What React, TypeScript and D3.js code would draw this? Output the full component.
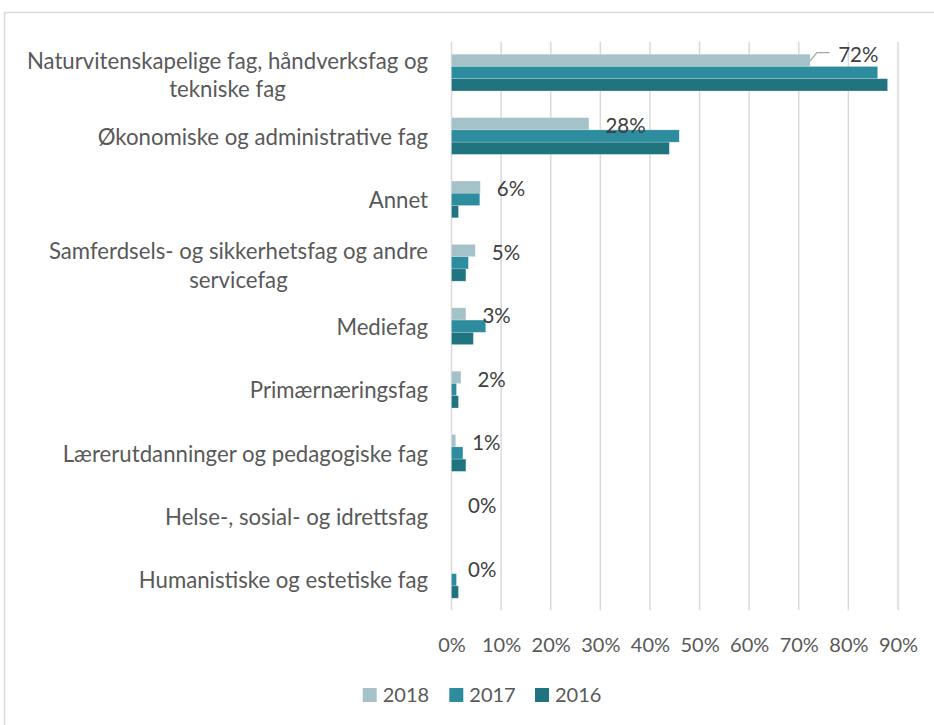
import React, { useEffect, useRef } from "react";
import * as d3 from "d3";

const categories = [
  ["Naturvitenskapelige fag, håndverksfag og", "tekniske fag"],
  ["Økonomiske og administrative fag"],
  ["Annet"],
  ["Samferdsels- og sikkerhetsfag og andre", "servicefag"],
  ["Mediefag"],
  ["Primærnæringsfag"],
  ["Lærerutdanninger og pedagogiske fag"],
  ["Helse-, sosial- og idrettsfag"],
  ["Humanistiske og estetiske fag"]
];

const years = ["2018", "2017", "2016"];
const v2018 = [72.3, 27.7, 5.8, 4.8, 2.9, 1.9, 0.85, 0, 0];
const v2017 = [85.9, 45.9, 5.7, 3.4, 6.9, 1.0, 2.3, 0, 1.0];
const v2016 = [87.9, 43.9, 1.4, 2.9, 4.4, 1.4, 2.9, 0, 1.4];
const labels2018 = ["72%", "28%", "6%", "5%", "3%", "2%", "1%", "0%", "0%"];
const xTicks = [0, 10, 20, 30, 40, 50, 60, 70, 80, 90];

const colors = ["#a5c2c9", "#2d8c9e", "#207480"];
const FONT = "Lato, 'Open Sans', sans-serif";

export default function App() {
  const ref = useRef<SVGSVGElement>(null);

  useEffect(() => {
    const width = 934;
    const height = 725;
    const svg = d3.select(ref.current).attr("width", width).attr("height", height);
    svg.selectAll("*").remove();

    const series = [v2018, v2017, v2016];
    const idx = categories.map((_, i) => i);

    // frame
    svg
      .append("rect")
      .attr("x", 4.5)
      .attr("y", 12.5)
      .attr("width", 1000)
      .attr("height", 1000)
      .attr("fill", "none")
      .attr("stroke", "#d9d9d9")
      .attr("stroke-width", 1.5);

    const x = d3.scaleLinear().domain([0, 90]).range([451.5, 898]);
    const y = d3
      .scaleBand<number>()
      .domain(idx)
      .range([41.7, 612.3])
      .padding(0);
    const groupH = y.bandwidth() * 0.58;
    const sub = d3
      .scaleBand<number>()
      .domain([0, 1, 2])
      .range([-groupH / 2 - 0.8, groupH / 2 - 0.8]);

    // gridlines
    svg
      .append("g")
      .selectAll("line")
      .data(xTicks)
      .join("line")
      .attr("x1", d => x(d))
      .attr("x2", d => x(d))
      .attr("y1", y.range()[0])
      .attr("y2", y.range()[1] - 2)
      .attr("stroke", "#d9d9d9")
      .attr("stroke-width", 1.5);

    // x axis labels
    const ax = svg
      .append("g")
      .attr("transform", `translate(0,${y.range()[1] + 22})`)
      .call(
        d3
          .axisBottom(x)
          .tickValues(xTicks)
          .tickSize(0)
          .tickFormat(d => `${d}%`)
      );
    ax.select(".domain").remove();
    ax.selectAll("text")
      .attr("fill", "#595959")
      .style("font-family", FONT)
      .style("font-size", "20px");

    // bars
    series.forEach((vals, s) => {
      svg
        .append("g")
        .selectAll("rect")
        .data(idx)
        .join("rect")
        .attr("x", x(0))
        .attr("y", i => y(i)! + y.bandwidth() / 2 + sub(s)!)
        .attr("width", i => x(vals[i]) - x(0))
        .attr("height", sub.bandwidth())
        .attr("fill", colors[s])
        .attr("stroke", "#ffffff")
        .attr("stroke-opacity", 0.35)
        .attr("stroke-width", 0.6);
    });

    // data labels (2018)
    const barMid = (i: number) => y(i)! + y.bandwidth() / 2 + sub(0)! + sub.bandwidth() / 2;
    svg
      .append("g")
      .selectAll("text")
      .data(idx)
      .join("text")
      .attr("x", i => x(v2018[i]) + (i === 0 ? 28 : 16.5))
      .attr("y", i => barMid(i) + (i === 0 ? -5.5 : 2))
      .attr("dy", "0.35em")
      .attr("fill", "#404040")
      .style("font-family", FONT)
      .style("font-size", "20.5px")
      .text(i => labels2018[i]);

    // leader line for first label
    const xe = x(v2018[0]);
    const yc = barMid(0);
    svg
      .append("path")
      .attr("d", d3.line()([[xe, yc + 0.5], [xe + 6.7, yc - 7.8], [xe + 19.3, yc - 7.8]]))
      .attr("fill", "none")
      .attr("stroke", "#a6a6a6")
      .attr("stroke-width", 1.3);

    // category labels
    const labelRight = 428;
    const lineGap = 28.5;
    categories.forEach((lines, i) => {
      const cy = y(i)! + y.bandwidth() / 2;
      const g = svg.append("g");
      const texts = g
        .selectAll("text")
        .data(lines)
        .join("text")
        .attr("y", (_, k) => cy + (k - (lines.length - 1) / 2) * lineGap + (lines.length > 1 ? 2 : 0))
        .attr("dy", "0.35em")
        .attr("fill", "#595959")
        .attr("text-anchor", "middle")
        .style("font-family", FONT)
        .style("font-size", "22.2px")
        .text(d => d);
      let maxW = 0;
      texts.each(function () {
        maxW = Math.max(maxW, (this as SVGTextElement).getComputedTextLength());
      });
      texts.attr("x", labelRight - maxW / 2);
    });

    // legend
    const legendX = [362.7, 449.3, 535];
    const lg = svg.append("g").attr("transform", "translate(0,695)");
    years.forEach((yr, s) => {
      lg.append("rect")
        .attr("x", legendX[s])
        .attr("y", -7)
        .attr("width", 14)
        .attr("height", 14)
        .attr("fill", colors[s]);
      lg.append("text")
        .attr("x", legendX[s] + 20)
        .attr("y", 0)
        .attr("dy", "0.35em")
        .attr("fill", "#595959")
        .style("font-family", FONT)
        .style("font-size", "20px")
        .text(yr);
    });
  }, []);

  return (
    <svg
      ref={ref}
      style={{ position: "absolute", left: 0, top: 0, display: "block", background: "#fff" }}
    ></svg>
  );
}
